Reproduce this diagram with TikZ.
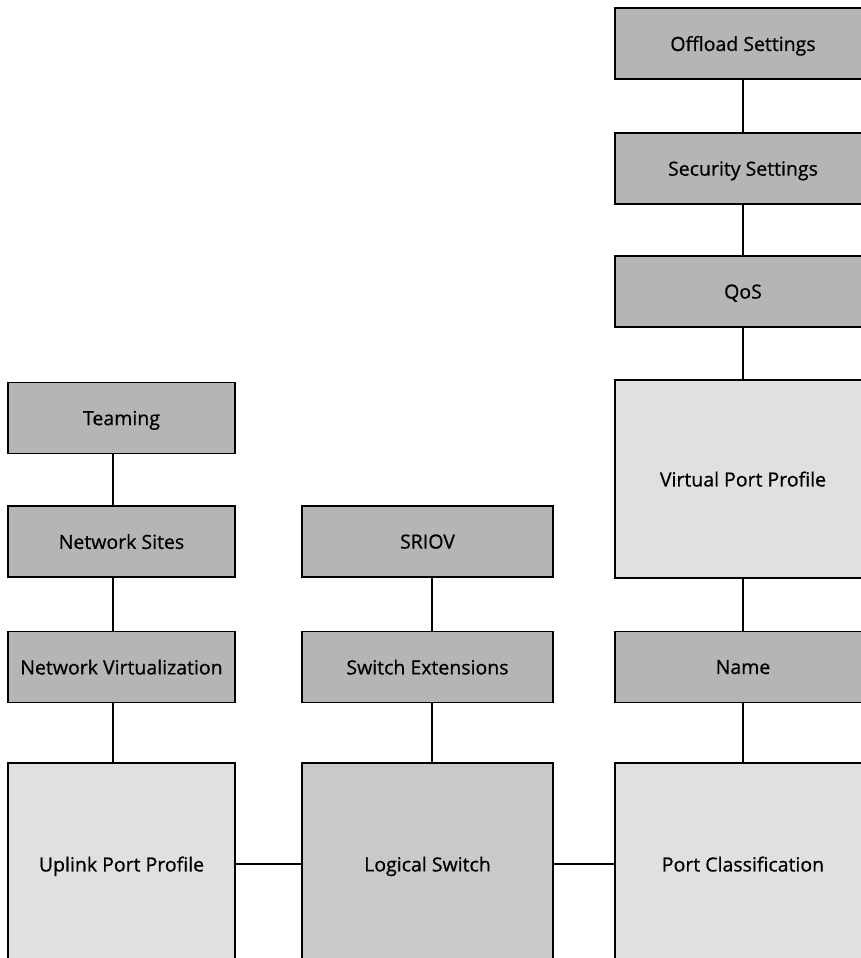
\documentclass[tikz,border=0pt]{standalone}
\usepackage{fontspec}
\setmainfont{Open Sans}
\newfontfamily\labelfont{Open Sans}[FakeBold=0.7]
\begin{document}
\begin{tikzpicture}[x=1pt,y=-1pt,
  box/.style={draw=black, line width=1.8pt, rectangle, inner sep=0pt,
    text depth=0pt, font=\labelfont\fontsize{19.5}{23}\selectfont, text=black},
  darkbox/.style={box, fill=black!29},
  midbox/.style={box, fill=black!21},
  lightbox/.style={box, fill=black!12},
  small/.style={minimum height=71pt},
  leftcol/.style={minimum width=227pt},
  midcol/.style={minimum width=251pt},
  rightcol/.style={minimum width=256pt},
  link/.style={draw=black, line width=1.8pt}]
\useasboundingbox (0,0) rectangle (861,958);
\clip (0,0) rectangle (861,958);
\fill[white] (0,0) rectangle (861,958);

% right column: port profile chain
\node[darkbox, small, rightcol] (offload) at (743,43.5) {Offload Settings};
\node[darkbox, small, rightcol] (security) at (743,168.5) {Security Settings};
\node[darkbox, small, rightcol] (qos) at (743,291.5) {QoS};
\node[lightbox, rightcol, minimum height=198pt] (vpp) at (743,479) {Virtual Port Profile};
\node[darkbox, small, rightcol] (name) at (743,667) {Name};
\node[lightbox, rightcol, minimum height=202pt] (portclass) at (743,864) {Port Classification};

% left column: uplink chain
\node[darkbox, small, leftcol] (teaming) at (121.5,418) {Teaming};
\node[darkbox, small, leftcol] (sites) at (121.5,541.5) {Network Sites};
\node[darkbox, small, leftcol] (netvirt) at (121.5,667) {Network Virtualization};
\node[lightbox, leftcol, minimum height=202pt] (uplink) at (121.5,864) {Uplink Port Profile};

% middle column: switch chain
\node[darkbox, small, midcol] (sriov) at (427.5,541.5) {SRIOV};
\node[darkbox, small, midcol] (ext) at (427.5,667) {Switch Extensions};
\node[midbox, midcol, minimum height=202pt] (lswitch) at (427.5,864) {Logical Switch};

% vertical links
\draw[link] (offload.south) -- (security.north);
\draw[link] (security.south) -- (qos.north);
\draw[link] (qos.south) -- (vpp.north);
\draw[link] (vpp.south) -- (name.north);
\draw[link] (name.south) -- (portclass.north);
\draw[link] ([xshift=-8.5pt]teaming.south) -- ([xshift=-8.5pt]sites.north);
\draw[link] ([xshift=-8.5pt]sites.south) -- ([xshift=-8.5pt]netvirt.north);
\draw[link] ([xshift=-8.5pt]netvirt.south) -- ([xshift=-8.5pt]uplink.north);
\draw[link] ([xshift=4.5pt]sriov.south) -- ([xshift=4.5pt]ext.north);
\draw[link] ([xshift=4.5pt]ext.south) -- ([xshift=4.5pt]lswitch.north);

% horizontal links
\draw[link] (uplink.east) -- (lswitch.west);
\draw[link] (lswitch.east) -- (portclass.west);
\end{tikzpicture}
\end{document}
